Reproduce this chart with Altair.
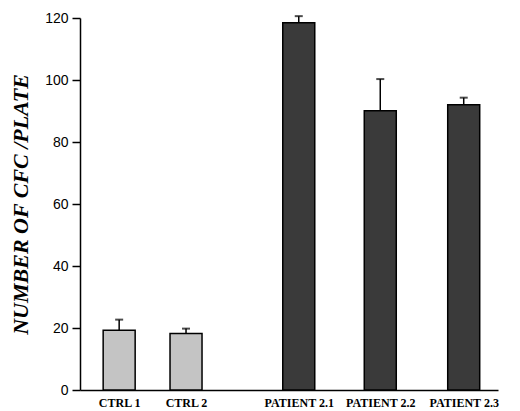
import altair as alt
import pandas as pd

# Data
groups = ["CTRL 1", "CTRL 2", "PATIENT 2.1", "PATIENT 2.2", "PATIENT 2.3"]
kind = ["ctrl", "ctrl", "patient", "patient", "patient"]
cfc_mean = [19.3, 18.2, 118.5, 90.1, 92.0]
cfc_err = [22.7, 19.8, 120.6, 100.3, 94.3]

# Layout: uneven spacing between bar groups (x in axis pixels from the y axis)
slot = [35, 103.5, 219, 302.5, 388]

df = pd.DataFrame(
    {"group": groups, "kind": kind, "mean": cfc_mean, "err": cfc_err, "pos": slot}
)

label_map = ",".join(f"'{p}':'{g}'" for p, g in zip(slot, groups))
label_expr = "{" + label_map + "}[datum.value] || ''"

x_enc = alt.X(
    "pos:Q",
    scale=alt.Scale(domain=[0, 418], nice=False, zero=True),
    axis=alt.Axis(
        values=slot,
        labelExpr=label_expr,
        ticks=False,
        grid=False,
        title=None,
        domainColor="black",
        domainWidth=1.5,
        labelFont="Liberation Serif",
        labelFontWeight="bold",
        labelFontSize=12,
        labelColor="black",
        labelPadding=7,
    ),
)

y_scale = alt.Scale(domain=[0, 120], nice=False)
y_axis = alt.Axis(
    orient="left",
    values=[0, 20, 40, 60, 80, 100, 120],
    grid=False,
    title="NUMBER OF CFC /PLATE",
    titleFont="Liberation Serif",
    titleFontStyle="italic",
    titleFontWeight="bold",
    titleFontSize=22,
    titleColor="black",
    titlePadding=12,
    labelFont="Liberation Sans",
    labelFontSize=14,
    labelColor="black",
    labelPadding=4,
    tickSize=8,
    tickWidth=1.5,
    tickColor="black",
    domainColor="black",
    domainWidth=1.5,
)

base = alt.Chart(df).encode(x=x_enc)

bars = base.mark_bar(size=32, stroke="black", strokeWidth=1.5).encode(
    y=alt.Y("mean:Q", scale=y_scale, axis=y_axis),
    color=alt.Color(
        "kind:N",
        scale=alt.Scale(domain=["ctrl", "patient"], range=["#c4c4c4", "#3a3a3a"]),
        legend=None,
    ),
)

# error bars: stem from bar top plus a short cap
err_line = base.mark_rule(color="black", strokeWidth=1.5).encode(
    y=alt.Y("mean:Q", scale=y_scale, axis=None), y2="err:Q"
)

err_cap = base.mark_tick(
    color="black", orient="horizontal", size=8, thickness=2
).encode(y=alt.Y("err:Q", scale=y_scale, axis=None))

chart = (
    alt.layer(err_line, bars, err_cap)
    .resolve_axis(y="independent")
    .properties(
        width=418,
        height=372,
        background="white",
        autosize=alt.AutoSizeParams(type="none"),
        padding={"left": 72, "top": 10, "right": 6, "bottom": 20},
    )
    .configure_view(strokeWidth=0)
)

chart.save("out.html", embed_options={"renderer": "svg", "actions": False})
